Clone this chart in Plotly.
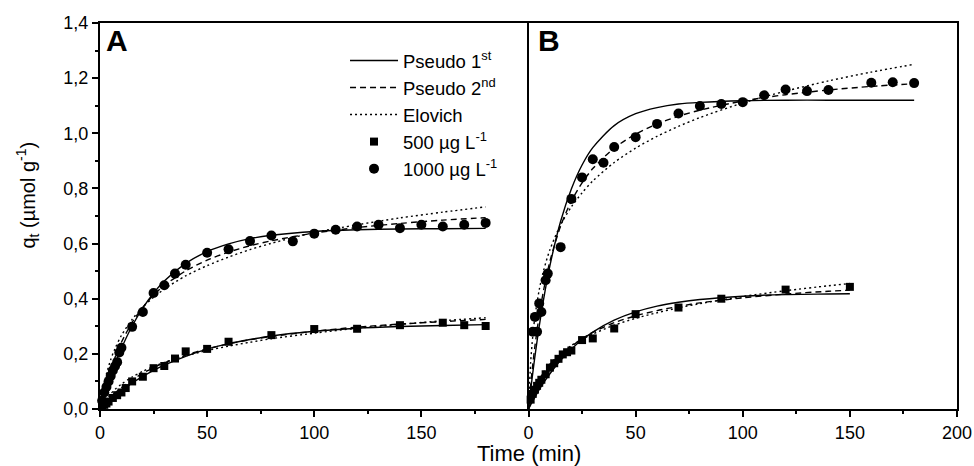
import plotly.graph_objects as go

# ---------------- data ----------------
# Panel A, 1000 ug/L (circles)
tA_1000 = [1, 2, 3, 4, 5, 6, 7, 8, 9, 10, 15, 20, 25, 30, 35, 40, 50, 60, 70, 80, 90,
           100, 110, 120, 130, 140, 150, 160, 170, 180]
qA_1000 = [0.03, 0.06, 0.08, 0.10, 0.12, 0.14, 0.155, 0.17, 0.205, 0.222, 0.298, 0.352,
           0.421, 0.449, 0.491, 0.523, 0.567, 0.579, 0.609, 0.629, 0.608,
           0.636, 0.650, 0.662, 0.668, 0.656, 0.668, 0.662, 0.668, 0.675]
# Panel A, 500 ug/L (squares)
tA_500 = [1, 2, 3, 4, 6, 8, 10, 12, 15, 20, 25, 30, 35, 40, 50, 60, 80, 100, 120, 140,
          160, 170, 180]
qA_500 = [0.01, 0.015, 0.02, 0.027, 0.04, 0.05, 0.06, 0.076, 0.10, 0.117, 0.148, 0.156,
          0.183, 0.209, 0.218, 0.244, 0.268, 0.290, 0.291, 0.304, 0.313, 0.304, 0.301]
# Panel B, 1000 ug/L (circles)
tB_1000 = [2, 3, 4, 5, 6, 8, 9, 15, 20, 25, 30, 35, 40, 50, 60, 70, 80, 90, 100, 110,
           120, 130, 140, 160, 170, 180]
qB_1000 = [0.28, 0.334, 0.28, 0.383, 0.352, 0.467, 0.491, 0.587, 0.762, 0.84, 0.906,
           0.893, 0.95, 0.986, 1.034, 1.072, 1.099, 1.106, 1.113, 1.138, 1.159, 1.153,
           1.157, 1.183, 1.185, 1.182]
# Panel B, 500 ug/L (squares)
tB_500 = [1, 2, 3, 4, 5, 6, 8, 10, 12, 14, 16, 18, 20, 25, 30, 40, 50, 70, 90, 120, 150]
qB_500 = [0.034, 0.055, 0.07, 0.084, 0.095, 0.106, 0.126, 0.15, 0.166, 0.182, 0.198,
          0.206, 0.212, 0.25, 0.256, 0.292, 0.344, 0.368, 0.40, 0.433, 0.443]

# fitted curves, values
t_fit180 = [0, 1, 2, 3, 5, 7, 10, 15, 20, 25, 30, 40, 50, 60, 70, 80, 100, 120, 140, 160, 180]
t_fit150 = [0, 1, 2, 3, 5, 7, 10, 15, 20, 25, 30, 40, 50, 60, 70, 80, 100, 120, 140, 150]

A1000_p1 = [0, 0.026, 0.052, 0.076, 0.121, 0.163, 0.220, 0.301, 0.367, 0.420, 0.464, 0.528,
            0.571, 0.599, 0.618, 0.630, 0.644, 0.650, 0.653, 0.654, 0.655]
A1000_p2 = [0, 0.034, 0.064, 0.093, 0.143, 0.187, 0.242, 0.314, 0.369, 0.413, 0.448, 0.501,
            0.540, 0.569, 0.592, 0.610, 0.638, 0.658, 0.673, 0.685, 0.694]
A1000_el = [0, 0.053, 0.093, 0.127, 0.179, 0.219, 0.267, 0.325, 0.370, 0.405, 0.435, 0.483,
            0.520, 0.551, 0.578, 0.601, 0.640, 0.668, 0.693, 0.714, 0.733]

A500_p1 = [0, 0.007, 0.015, 0.022, 0.035, 0.048, 0.066, 0.094, 0.118, 0.140, 0.159, 0.191,
           0.217, 0.237, 0.252, 0.265, 0.282, 0.293, 0.299, 0.303, 0.306]
A500_p2 = [0, 0.009, 0.018, 0.027, 0.043, 0.058, 0.077, 0.106, 0.130, 0.150, 0.167, 0.196,
           0.218, 0.236, 0.251, 0.263, 0.282, 0.297, 0.308, 0.317, 0.325]
A500_el = [0, 0.014, 0.026, 0.037, 0.055, 0.071, 0.090, 0.116, 0.137, 0.154, 0.169, 0.193,
           0.212, 0.228, 0.242, 0.255, 0.275, 0.293, 0.307, 0.320, 0.331]

B1000_p1 = [0, 0.068, 0.131, 0.191, 0.300, 0.396, 0.520, 0.681, 0.798, 0.885, 0.948, 1.028,
            1.071, 1.093, 1.106, 1.112, 1.118, 1.120, 1.120, 1.120, 1.120]
B1000_p2 = [0, 0.086, 0.162, 0.228, 0.340, 0.429, 0.536, 0.664, 0.754, 0.820, 0.872, 0.946,
            0.997, 1.034, 1.062, 1.084, 1.117, 1.140, 1.157, 1.170, 1.180]
B1000_el = [0, 0.168, 0.265, 0.335, 0.432, 0.501, 0.578, 0.668, 0.733, 0.784, 0.827, 0.894,
            0.946, 0.989, 1.025, 1.057, 1.110, 1.153, 1.190, 1.222, 1.250]

B500_p1 = [0, 0.015, 0.029, 0.043, 0.070, 0.095, 0.128, 0.177, 0.217, 0.251, 0.279, 0.322,
           0.352, 0.373, 0.387, 0.397, 0.409, 0.415, 0.417, 0.418]
B500_p2 = [0, 0.020, 0.038, 0.056, 0.086, 0.113, 0.147, 0.192, 0.227, 0.255, 0.278, 0.313,
           0.338, 0.357, 0.372, 0.385, 0.403, 0.417, 0.427, 0.431]
B500_el = [0, 0.030, 0.055, 0.075, 0.107, 0.133, 0.163, 0.201, 0.230, 0.253, 0.272, 0.304,
           0.329, 0.349, 0.367, 0.382, 0.408, 0.429, 0.447, 0.455]

y_ticks = [0.0, 0.2, 0.4, 0.6, 0.8, 1.0, 1.2, 1.4]
y_ticktext = ["0,0", "0,2", "0,4", "0,6", "0,8", "1,0", "1,2", "1,4"]
y_minor = [0.1, 0.3, 0.5, 0.7, 0.9, 1.1, 1.3]
xA_ticks = [0, 50, 100, 150]
xB_ticks = [0, 50, 100, 150, 200]
x_minor = [25, 75, 125, 175]

names = ["Pseudo 1<sup>st</sup>", "Pseudo 2<sup>nd</sup>", "Elovich",
         "500 µg L<sup>-1</sup>", "1000 µg L<sup>-1</sup>"]

# ---------------- figure ----------------
FONT = "Liberation Sans, Arial, sans-serif"
fig = go.Figure()

dashes = ["solid", "6px,4px", "2px,3px"]
fits = [
    ("x", "y", t_fit180, [A1000_p1, A1000_p2, A1000_el]),
    ("x", "y", t_fit180, [A500_p1, A500_p2, A500_el]),
    ("x2", "y2", t_fit180, [B1000_p1, B1000_p2, B1000_el]),
    ("x2", "y2", t_fit150, [B500_p1, B500_p2, B500_el]),
]
for gi, (xa, ya, tt, curves) in enumerate(fits):
    for mi, qq in enumerate(curves):
        fig.add_trace(go.Scatter(
            x=tt, y=qq, mode="lines", xaxis=xa, yaxis=ya,
            line=dict(color="black", width=1.4, dash=dashes[mi], shape="spline", smoothing=0.8),
            name=names[mi], showlegend=(gi == 0), legendrank=mi + 1, hoverinfo="skip"))

markers = [
    ("x", "y", tA_500, qA_500, "square", 8, 3),
    ("x", "y", tA_1000, qA_1000, "circle", 10, 4),
    ("x2", "y2", tB_500, qB_500, "square", 8, 3),
    ("x2", "y2", tB_1000, qB_1000, "circle", 10, 4),
]
for i, (xa, ya, tt, qq, sym, sz, ni) in enumerate(markers):
    fig.add_trace(go.Scatter(
        x=tt, y=qq, mode="markers", xaxis=xa, yaxis=ya, cliponaxis=False,
        marker=dict(symbol=sym, size=sz, color="black", line=dict(width=0)),
        name=names[ni], showlegend=(i < 2), legendrank=ni + 1))

axis_common = dict(showline=True, linecolor="black", linewidth=2,
                   showgrid=False, zeroline=False, automargin=False,
                   tickfont=dict(family=FONT, size=18, color="black"),
                   tickcolor="black", tickwidth=1.5)

fig.update_layout(
    width=974, height=466,
    margin=dict(l=100, r=17, t=23, b=57, autoexpand=False),
    paper_bgcolor="white", plot_bgcolor="white",
    font=dict(family=FONT, color="black"),
    xaxis=dict(domain=[0, 0.5], range=[0, 200], anchor="y", tickvals=xA_ticks,
               ticks="outside", ticklen=6, mirror=True,
               minor=dict(tickvals=x_minor, ticks="outside", ticklen=3, tickcolor="black", tickwidth=1.5),
               **axis_common),
    xaxis2=dict(domain=[0.5, 1], range=[0, 200], anchor="y2", tickvals=xB_ticks,
                ticks="outside", ticklen=6, mirror=True,
                minor=dict(tickvals=x_minor, ticks="outside", ticklen=3, tickcolor="black", tickwidth=1.5),
                **axis_common),
    yaxis=dict(domain=[0, 1], range=[0, 1.4], anchor="x", tickvals=y_ticks,
               ticktext=y_ticktext, ticks="outside", ticklen=6, mirror=False,
               minor=dict(tickvals=y_minor, ticks="outside", ticklen=3, tickcolor="black", tickwidth=1.5),
               **axis_common),
    yaxis2=dict(domain=[0, 1], range=[0, 1.4], anchor="x2", matches="y", mirror=True,
                showticklabels=False, ticks="", **axis_common),
    legend=dict(x=0.2859, y=0.951, xanchor="left", yanchor="top",
                bgcolor="rgba(0,0,0,0)", borderwidth=0, itemwidth=48,
                font=dict(family=FONT, size=18.5, color="black"), tracegroupgap=0),
    showlegend=True,
    annotations=[
        dict(text="Time (min)", x=0.5, y=-0.114, xref="paper", yref="paper",
             xanchor="center", yanchor="middle", showarrow=False,
             font=dict(family=FONT, size=22, color="black")),
        dict(text="q<sub>t</sub> (µmol g<sup>-1</sup>)", x=-0.084, y=0.553,
             xref="paper", yref="paper", textangle=-90, xanchor="center",
             yanchor="middle", showarrow=False,
             font=dict(family=FONT, size=20, color="black")),
        dict(text="<b>A</b>", x=0.0045, y=0.955, xref="paper", yref="paper",
             xanchor="left", yanchor="middle", showarrow=False,
             font=dict(family=FONT, size=30, color="black")),
        dict(text="<b>B</b>", x=0.5085, y=0.955, xref="paper", yref="paper",
             xanchor="left", yanchor="middle", showarrow=False,
             font=dict(family=FONT, size=30, color="black")),
    ],
)

# remove the browser's default page margin so the figure sits at the window's corner
fig.write_html("out.html",
               config={"displayModeBar": False},
               post_script="document.body.style.margin='0';document.body.style.overflow='hidden';")
